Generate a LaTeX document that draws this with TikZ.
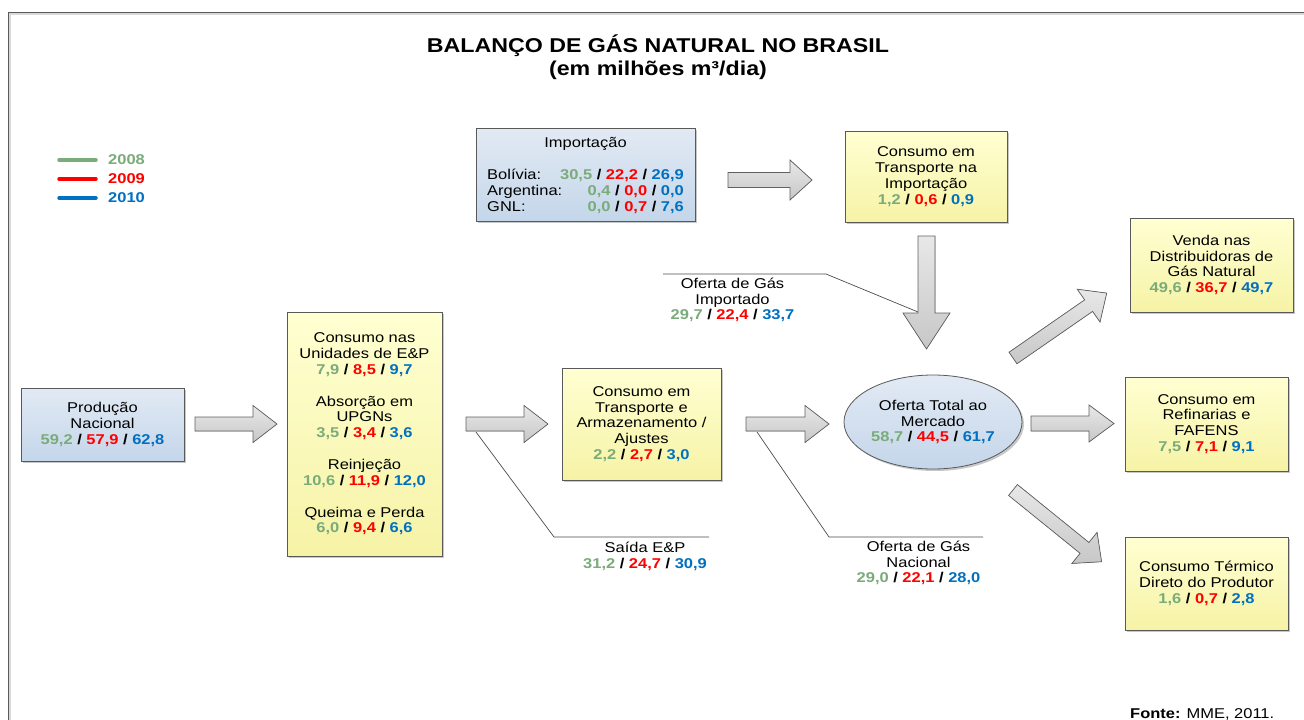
\documentclass[tikz,border=0pt]{standalone}
\usepackage{fontspec}
\setmainfont{Liberation Sans}[FakeStretch=1.16]
\usetikzlibrary{shadows,shapes.geometric}
\definecolor{cg}{HTML}{7AAB7A}
\definecolor{cr}{HTML}{FF0000}
\definecolor{cb}{HTML}{0070C0}
\definecolor{ytop}{HTML}{FFFFD2}
\definecolor{ybot}{HTML}{F6F3A6}
\definecolor{btop}{HTML}{E2EAF4}
\definecolor{bbot}{HTML}{C4D6EA}
\definecolor{frm}{HTML}{5A5A5A}
\newcommand{\myfont}{\fontsize{14.2}{15.8}\selectfont}
\newcommand{\vals}[3]{\textbf{\textcolor{cg}{#1} / \textcolor{cr}{#2} / \textcolor{cb}{#3}}}
\newcommand{\blockarrow}[6]{%
  \filldraw[barrow, shift={#1}, rotate=#2] (0,#4) -- ({#3-#5},#4) -- ({#3-#5},#6) -- (#3,0)
    -- ({#3-#5},-#6) -- ({#3-#5},-#4) -- (0,-#4) -- cycle;}
\tikzset{
  box/.style={draw=black!65, line width=0.8pt,
    drop shadow={shadow xshift=2pt, shadow yshift=-2pt, opacity=0.3, fill=black!70},
    align=center, inner sep=0pt, font=\myfont},
  ybox/.style={box, top color=ytop, bottom color=ybot},
  bbox/.style={box, top color=btop, bottom color=bbot},
  lbl/.style={align=center, inner sep=0pt, font=\myfont},
  callout/.style={draw=black!70, line width=0.7pt},
  barrow/.style={draw=black!62, line width=0.7pt, top color=black!9, bottom color=black!22},
  legline/.style={line width=3.5pt, line cap=round},
}
\begin{document}
\begin{tikzpicture}[x=1pt, y=-1pt]
\useasboundingbox (0,0) rectangle (1304,720);
\fill[white] (0,0) rectangle (1304,720);
% frame
\coordinate (f1) at (8.5,720);
\coordinate (f2) at (8.5,12.5);
\coordinate (f3) at (1304,12.5);
\draw[black!15, line width=1.5pt] ([xshift=1.6pt,yshift=-1.6pt]f1) -- ([xshift=1.6pt,yshift=-1.6pt]f2) -- ([yshift=-1.6pt]f3);
\draw[frm, line width=1.4pt] (f1) -- (f2) -- (f3);

% title
\node[inner sep=0pt, font=\fontsize{20}{24}\selectfont\bfseries] (title) at (658,46) {BALANÇO DE GÁS NATURAL NO BRASIL};
\node[inner sep=0pt, font=\fontsize{20}{24}\selectfont\bfseries] (subtitle) at (658,70) {(em milhões m³/dia)};

% legend
\coordinate (l1a) at (59,160); \coordinate (l1b) at (96,160);
\coordinate (l2a) at (59,179); \coordinate (l2b) at (96,179);
\coordinate (l3a) at (59,198); \coordinate (l3b) at (96,198);
\draw[legline, cg] (l1a) -- (l1b);
\draw[legline, cr] (l2a) -- (l2b);
\draw[legline, cb] (l3a) -- (l3b);
\node[anchor=west, inner sep=0pt, font=\myfont\bfseries, text=cg] (y08) at (108,160) {2008};
\node[anchor=west, inner sep=0pt, font=\myfont\bfseries, text=cr] (y09) at (108,179) {2009};
\node[anchor=west, inner sep=0pt, font=\myfont\bfseries, text=cb] (y10) at (108,198) {2010};

% boxes
\node[bbox, minimum width=163pt, minimum height=73pt] (prod) at (102.5,424.5)
  {Produção\\Nacional\\\vals{59,2}{57,9}{62,8}};
\node[ybox, minimum width=155pt, minimum height=244pt] (ep) at (364.5,434)
  {Consumo nas\\Unidades de E\&P\\\vals{7,9}{8,5}{9,7}\\[16pt]
   Absorção em\\UPGNs\\\vals{3,5}{3,4}{3,6}\\[16pt]
   Reinjeção\\\vals{10,6}{11,9}{12,0}\\[16pt]
   Queima e Perda\\\vals{6,0}{9,4}{6,6}};
\node[ybox, minimum width=159pt, minimum height=112pt] (arm) at (641.5,424)
  {Consumo em\\Transporte e\\Armazenamento /\\Ajustes\\\vals{2,2}{2,7}{3,0}};
\node[bbox, minimum width=219pt, minimum height=93pt] (imp) at (585.5,174.5) {};
\node[lbl, anchor=base] (impt) at (585.5,147) {Importação};
\node[lbl, anchor=base west] (bol) at (487,179) {Bolívia:};
\node[lbl, anchor=base west] (arg) at (487,195) {Argentina:};
\node[lbl, anchor=base west] (gnl) at (487,211) {GNL:};
\node[lbl, anchor=base east] (bolv) at (684,179) {\vals{30,5}{22,2}{26,9}};
\node[lbl, anchor=base east] (argv) at (684,195) {\vals{0,4}{0,0}{0,0}};
\node[lbl, anchor=base east] (gnlv) at (684,211) {\vals{0,0}{0,7}{7,6}};
\node[ybox, minimum width=162pt, minimum height=91pt] (ctimp) at (926,176.5)
  {Consumo em\\Transporte na\\Importação\\\vals{1,2}{0,6}{0,9}};
\node[bbox, ellipse, minimum width=178pt, minimum height=94pt] (oft) at (933,422)
  {Oferta Total ao\\Mercado\\\vals{58,7}{44,5}{61,7}};
\node[ybox, minimum width=163pt, minimum height=94pt] (venda) at (1211.5,265)
  {Venda nas\\Distribuidoras de\\Gás Natural\\\vals{49,6}{36,7}{49,7}};
\node[ybox, minimum width=163pt, minimum height=94pt] (refin) at (1206.5,424)
  {Consumo em\\Refinarias e\\FAFENS\\\vals{7,5}{7,1}{9,1}};
\node[ybox, minimum width=163pt, minimum height=93pt] (term) at (1206.5,583.5)
  {Consumo Térmico\\Direto do Produtor\\\vals{1,6}{0,7}{2,8}};

% callouts
\coordinate (c1a) at (663,274); \coordinate (c1b) at (826,274); \coordinate (c1c) at (918,312);
\coordinate (c2a) at (476,432); \coordinate (c2b) at (554,537); \coordinate (c2c) at (709,537);
\coordinate (c3a) at (757,432); \coordinate (c3b) at (829,537); \coordinate (c3c) at (983,537);
\draw[callout] (c1a) -- (c1b) -- (c1c);
\draw[callout] (c2a) -- (c2b) -- (c2c);
\draw[callout] (c3a) -- (c3b) -- (c3c);
\node[lbl] (oimp) at (732.5,300) {Oferta de Gás\\Importado\\\vals{29,7}{22,4}{33,7}};
\node[lbl] (saida) at (645,556) {Saída E\&P\\\vals{31,2}{24,7}{30,9}};
\node[lbl] (onac) at (918.5,563) {Oferta de Gás\\Nacional\\\vals{29,0}{22,1}{28,0}};

% block arrows
\blockarrow{(195,424)}{0}{82}{7}{24}{18.5}
\blockarrow{(466,424)}{0}{82}{7}{24}{18.5}
\blockarrow{(746,424)}{0}{83}{7}{24}{18.5}
\blockarrow{(728,180)}{0}{84}{7.5}{22}{20}
\blockarrow{(926.5,236)}{-90}{113}{8.5}{36}{23.5}
\blockarrow{(1031,423.5)}{0}{83}{7.5}{25}{18.5}
\blockarrow{(1013,358)}{34.7}{114}{7}{22}{20}
\blockarrow{(1013,490)}{-39}{114}{7}{22}{20}

% source
\node[anchor=base west, inner sep=0pt, font=\myfont] (fonte) at (1130,718) {\textbf{Fonte:} MME, 2011.};
\end{tikzpicture}
\end{document}
